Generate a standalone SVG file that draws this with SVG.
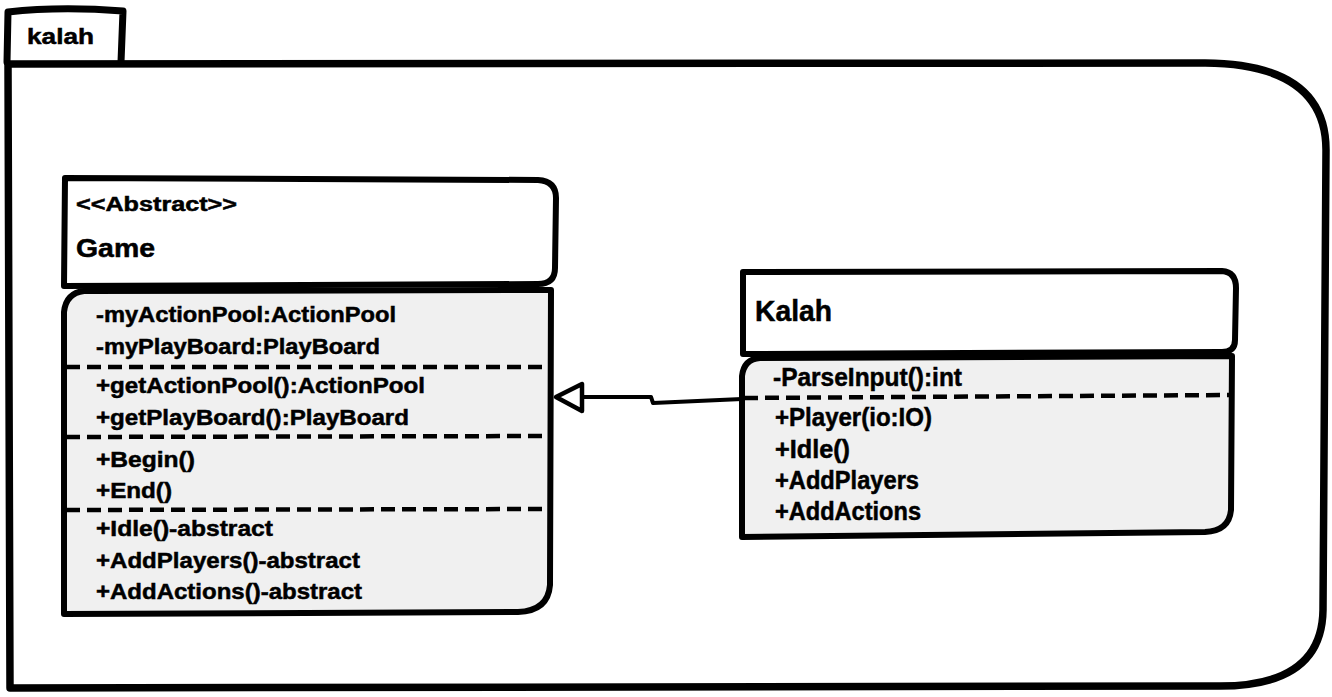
<svg xmlns="http://www.w3.org/2000/svg" width="1332" height="697" viewBox="0 0 1332 697">
<style>
.ln{fill:none;stroke:#000;stroke-width:6;stroke-linejoin:round;stroke-linecap:round}
.box{stroke:#000;stroke-width:6;stroke-linejoin:round}
.hd{fill:#fff}
.bd{fill:#f0f0f0}
.dash{fill:none;stroke:#000;stroke-width:4.5;stroke-dasharray:14 7}
text{font-family:"Liberation Sans",Arial,sans-serif;font-weight:bold;fill:#000;stroke:#000;stroke-width:0.5}
.m{font-size:22px}
.k{font-size:25px}
</style>
<rect width="1332" height="697" fill="#fff"/>
<g id="package">
<path class="ln" d="M7,62 L8,12 Q60,6 123,11 L121,62" style="stroke-width:7"/>
<path class="ln" d="M8,64 L1205,63 Q1326,64 1326,150 L1323,610 Q1322,686 1220,686 L10,688 Z" style="stroke-width:7.5"/>
<text x="27" y="44" font-size="22" textLength="67" lengthAdjust="spacingAndGlyphs">kalah</text>
</g>
<g id="connectors">
<path class="ln" d="M742,399 L653,403 L651,397 L582,397" style="stroke-width:4"/>
<polygon points="556,397 582,384 582,411" fill="#fff" stroke="#000" stroke-width="4.5" stroke-linejoin="round"/>
</g>
<g id="game">
<path class="box hd" d="M65,178 L538,180 Q556,181 556,198 L555,268 Q555,284 538,284 L64,286 Z"/>
<text x="76" y="211" font-size="20" textLength="161" lengthAdjust="spacingAndGlyphs">&lt;&lt;Abstract&gt;&gt;</text>
<text x="76" y="257" font-size="25" textLength="79" lengthAdjust="spacingAndGlyphs">Game</text>
<path class="box bd" d="M84,291 L551,290 L550,585 Q548,611 518,612 L64,614 L64,312 Q66,293 84,291 Z"/>
<text class="m" x="96" y="322" textLength="300" lengthAdjust="spacingAndGlyphs">-myActionPool:ActionPool</text>
<text class="m" x="96" y="354" textLength="284" lengthAdjust="spacingAndGlyphs">-myPlayBoard:PlayBoard</text>
<path class="dash" d="M66,367 L549,367"/>
<text class="m" x="96" y="393" textLength="329" lengthAdjust="spacingAndGlyphs">+getActionPool():ActionPool</text>
<text class="m" x="96" y="425" textLength="313" lengthAdjust="spacingAndGlyphs">+getPlayBoard():PlayBoard</text>
<path class="dash" d="M66,437 L548,436"/>
<text class="m" x="96" y="467" textLength="99" lengthAdjust="spacingAndGlyphs">+Begin()</text>
<text class="m" x="96" y="498" textLength="76" lengthAdjust="spacingAndGlyphs">+End()</text>
<path class="dash" d="M66,510 L549,509"/>
<text class="m" x="96" y="536" textLength="177" lengthAdjust="spacingAndGlyphs">+Idle()-abstract</text>
<text class="m" x="96" y="568" textLength="264" lengthAdjust="spacingAndGlyphs">+AddPlayers()-abstract</text>
<text class="m" x="96" y="599" textLength="266" lengthAdjust="spacingAndGlyphs">+AddActions()-abstract</text>
</g>
<g id="kalah">
<path class="box hd" d="M743,272 L1222,271 Q1236,272 1236,288 L1235,340 Q1235,352 1222,352 L743,354 Z"/>
<text x="755" y="321" font-size="29" textLength="77" lengthAdjust="spacingAndGlyphs">Kalah</text>
<path class="box bd" d="M760,358 L1232,356 L1231,510 Q1229,531 1205,532 L742,537 L742,376 Q744,359 760,358 Z"/>
<text class="k" x="773" y="386" textLength="189" lengthAdjust="spacingAndGlyphs">-ParseInput():int</text>
<path class="dash" d="M744,398 L1230,395"/>
<text class="k" x="775" y="426" textLength="157" lengthAdjust="spacingAndGlyphs">+Player(io:IO)</text>
<text class="k" x="775" y="458" textLength="75" lengthAdjust="spacingAndGlyphs">+Idle()</text>
<text class="k" x="775" y="489" textLength="144" lengthAdjust="spacingAndGlyphs">+AddPlayers</text>
<text class="k" x="775" y="520" textLength="146" lengthAdjust="spacingAndGlyphs">+AddActions</text>
</g>
</svg>
